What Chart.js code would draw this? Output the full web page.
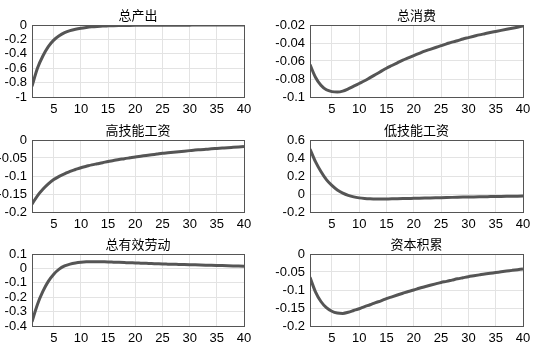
<!DOCTYPE html>
<html>
<head>
<meta charset="utf-8">
<script src="https://cdn.jsdelivr.net/npm/chart.js@4"></script>
<style>
body { margin:0; background:#fff; }
#wrap { position:relative; width:541px; height:363px; }
.cell { position:absolute; }
</style>
</head>
<body>
<div id="wrap"></div>
<script>
// impulse responses, periods 1..40
var periods = [1,2,3,4,5,6,7,8,9,10,11,12,13,14,15,16,17,18,19,20,21,22,23,24,25,26,27,28,29,30,31,32,33,34,35,36,37,38,39,40];
var xTicks = [5,10,15,20,25,30,35,40];

var titles = ['总产出','总消费','高技能工资','低技能工资','总有效劳动','资本积累'];

var output = [-0.85,-0.60,-0.43,-0.30,-0.21,-0.15,-0.107,-0.078,-0.058,-0.044,-0.034,-0.026,-0.02,-0.015,-0.012,-0.0095,-0.0078,-0.0065,-0.0055,-0.0048,-0.0042,-0.0037,-0.0033,-0.003,-0.0027,-0.0025,-0.0023,-0.0021,-0.0019,-0.0018,-0.0016,-0.0015,-0.0014,-0.0013,-0.0012,-0.0011,-0.001,-0.0009,-0.0008,-0.0008];
var consumption = [-0.064,-0.078,-0.087,-0.092,-0.094,-0.0945,-0.0935,-0.091,-0.088,-0.085,-0.082,-0.0785,-0.075,-0.0715,-0.068,-0.065,-0.062,-0.059,-0.0565,-0.054,-0.0515,-0.049,-0.047,-0.045,-0.043,-0.041,-0.039,-0.0375,-0.0355,-0.034,-0.0325,-0.031,-0.0297,-0.0284,-0.0272,-0.026,-0.0248,-0.0236,-0.0224,-0.0212];
var highWage = [-0.178,-0.155,-0.137,-0.122,-0.11,-0.101,-0.094,-0.087,-0.082,-0.077,-0.073,-0.069,-0.066,-0.063,-0.0595,-0.057,-0.054,-0.052,-0.0495,-0.047,-0.045,-0.043,-0.041,-0.039,-0.037,-0.0355,-0.034,-0.0325,-0.031,-0.0295,-0.028,-0.027,-0.0258,-0.0246,-0.0235,-0.0224,-0.0213,-0.0203,-0.0193,-0.0183];
var lowWage = [0.5,0.36,0.25,0.16,0.095,0.045,0.01,-0.015,-0.032,-0.043,-0.05,-0.054,-0.056,-0.056,-0.055,-0.054,-0.0525,-0.051,-0.0495,-0.048,-0.0465,-0.045,-0.0435,-0.042,-0.0405,-0.039,-0.0375,-0.036,-0.0345,-0.033,-0.032,-0.031,-0.030,-0.029,-0.028,-0.027,-0.026,-0.025,-0.024,-0.023];
var labour = [-0.37,-0.25,-0.16,-0.09,-0.04,-0.005,0.017,0.03,0.038,0.043,0.046,0.047,0.047,0.046,0.045,0.0435,0.042,0.0405,0.039,0.038,0.0365,0.035,0.0335,0.032,0.0305,0.0295,0.0285,0.0275,0.0265,0.0255,0.0245,0.0235,0.0225,0.0215,0.0205,0.0195,0.0185,0.0175,0.0165,0.0155];
var capital = [-0.065,-0.105,-0.132,-0.149,-0.159,-0.164,-0.165,-0.162,-0.157,-0.152,-0.146,-0.141,-0.135,-0.13,-0.124,-0.119,-0.114,-0.109,-0.104,-0.1,-0.095,-0.091,-0.087,-0.083,-0.079,-0.076,-0.0725,-0.069,-0.066,-0.063,-0.0605,-0.058,-0.0555,-0.0535,-0.0515,-0.0495,-0.0475,-0.0455,-0.0435,-0.0415];

var yTicks = [
  [-1,-0.8,-0.6,-0.4,-0.2,0],
  [-0.1,-0.08,-0.06,-0.04,-0.02],
  [-0.2,-0.15,-0.1,-0.05,0],
  [-0.2,0,0.2,0.4,0.6],
  [-0.4,-0.3,-0.2,-0.1,0,0.1],
  [-0.2,-0.15,-0.1,-0.05,0]
];
var series = [output, consumption, highWage, lowWage, labour, capital];

var tickFont = { family: '"Liberation Sans", Arial, sans-serif', size: 13 };

var framePlugin = {
  id: 'frame',
  afterDraw: function(chart) {
    var a = chart.chartArea, ctx = chart.ctx;
    ctx.save();
    ctx.strokeStyle = '#555';
    ctx.lineWidth = 1;
    ctx.strokeRect(Math.round(a.left) + 0.5, Math.round(a.top) + 0.5,
                   Math.round(a.right - a.left), Math.round(a.bottom - a.top));
    ctx.fillStyle = '#000';
    ctx.font = '13px "Noto Sans CJK SC", sans-serif';
    ctx.textAlign = 'center';
    ctx.textBaseline = 'middle';
    ctx.fillText(chart.options.plugins.panelTitle, (a.left + a.right) / 2, a.top - 10);
    ctx.restore();
  }
};

function makePanel(i) {
  var col = i % 2, row = Math.floor(i / 2);
  var div = document.createElement('div');
  div.className = 'cell';
  var cellLeft = col === 0 ? 0 : 270;
  var cellWidth = col === 0 ? 270 : 271;
  var cellTop = [0, 115, 229][row];
  div.style.left = cellLeft + 'px';
  div.style.top = cellTop + 'px';
  div.style.width = cellWidth + 'px';
  div.style.height = '115px';
  var cv = document.createElement('canvas');
  div.appendChild(cv);
  document.getElementById('wrap').appendChild(div);

  var yw = col === 0 ? 32 : 40;
  var padRight = col === 0 ? 26 : 18;
  var yt = yTicks[i];

  new Chart(cv.getContext('2d'), {
    type: 'line',
    data: {
      datasets: [{
        data: periods.map(function(p, k) { return { x: p, y: series[i][k] }; }),
        borderColor: '#555555',
        borderWidth: 3,
        pointRadius: 0,
        cubicInterpolationMode: 'monotone',
        fill: false
      }]
    },
    options: {
      responsive: true,
      maintainAspectRatio: false,
      animation: false,
      layout: { padding: { top: 25, right: padRight, bottom: 0, left: 0 } },
      plugins: { legend: { display: false }, tooltip: { enabled: false }, panelTitle: titles[i] },
      scales: {
        x: {
          type: 'linear', min: 1, max: 40,
          afterBuildTicks: function(s) { s.ticks = xTicks.map(function(v) { return { value: v }; }); },
          afterFit: function(s) { s.height = 18; },
          grid: { color: '#e3e3e3', drawTicks: false },
          border: { display: false },
          ticks: { color: '#000', font: tickFont, padding: 5, maxRotation: 0, autoSkip: false,
                   callback: function(v) { return String(v); } }
        },
        y: {
          type: 'linear', min: yt[0], max: yt[yt.length - 1],
          afterBuildTicks: function(s) { s.ticks = yt.map(function(v) { return { value: v }; }); },
          afterFit: function(s) { s.width = yw; },
          grid: { color: '#e3e3e3', drawTicks: false },
          border: { display: false },
          ticks: { color: '#000', font: tickFont, padding: 5, autoSkip: false,
                   callback: function(v) { return String(v); } }
        }
      }
    },
    plugins: [framePlugin]
  });
}

for (var n = 0; n < 6; n++) makePanel(n);
</script>
</body>
</html>
